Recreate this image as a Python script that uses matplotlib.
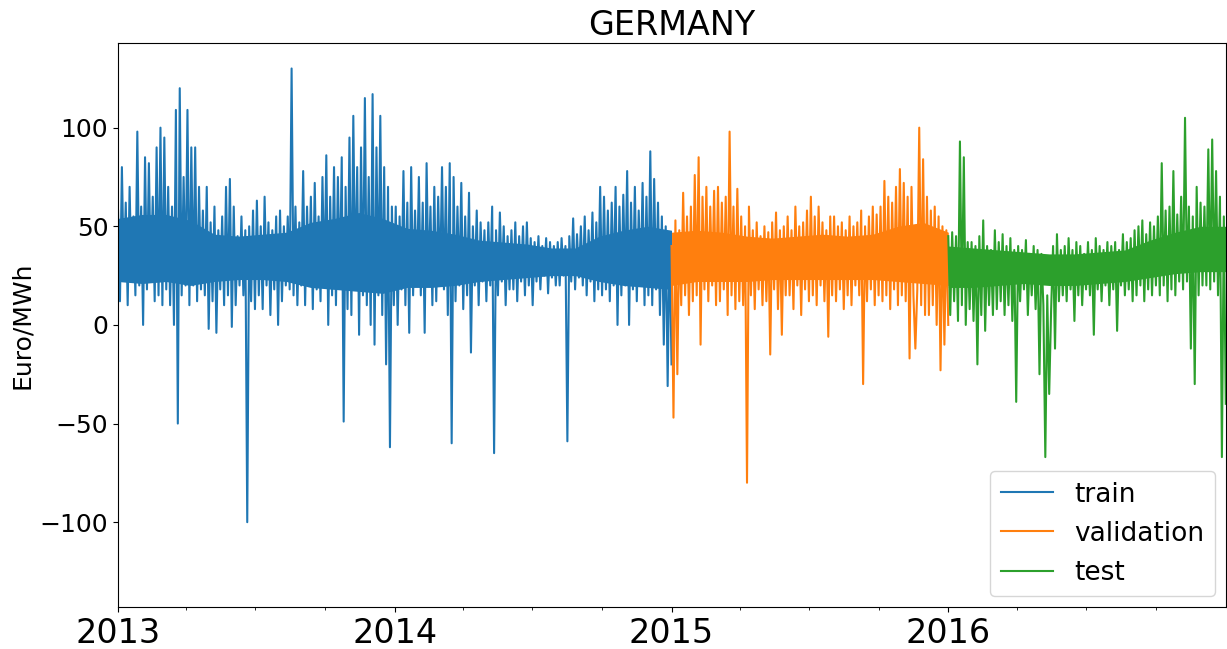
import numpy as np
import pandas as pd
import matplotlib
matplotlib.use("Agg")
import matplotlib.pyplot as plt
import matplotlib.dates as mdates

# hourly prices, thinned to 12 points per month
train_2013 = [
    58, 12, 80, 25, 62, 10, 70, 22, 55, 15, 98, 20,
    60, 0, 85, 18, 82, 22, 65, 12, 90, 15, 100, 10,
    95, 18, 70, 10, 60, 0, 109, -50, 120, 15, 75, 20,
    109, 10, 90, 20, 90, 12, 70, 18, 58, 15, 70, -2,
    52, 12, 60, -4, 48, 18, 55, 10, 70, 15, 74, -1,
    60, 10, 45, 20, 55, 15, 48, -100, 50, 12, 58, 8,
    63, 15, 50, 8, 65, 20, 52, 5, 48, 18, 55, 0,
    58, 12, 50, 20, 55, 18, 130, 15, 60, 10, 52, 20,
    78, 10, 60, 22, 65, 8, 72, 18, 55, 12, 75, 20,
    86, 0, 65, 15, 80, 10, 75, 20, 85, -49, 70, 8,
    95, 5, 106, 20, 80, -5, 90, 15, 115, 10, 75, 0,
    117, -10, 90, 15, 106, 5, 80, -20, 70, -62, 60, 10,
]
train_2014 = [
    60, 0, 55, 18, 78, 10, 62, -4, 80, 15, 58, 20,
    75, 15, 62, -4, 82, 20, 60, 10, 70, 12, 65, 22,
    80, 18, 70, 5, 82, -60, 75, 12, 60, 20, 72, 8,
    55, 15, 67, -14, 50, 20, 58, 10, 52, 22, 48, 12,
    52, 20, 60, -65, 48, 15, 57, 22, 50, 10, 45, 18,
    48, 18, 52, 12, 45, 22, 50, 15, 52, 20, 44, 10,
    42, 22, 45, 18, 40, 25, 44, 16, 42, 24, 40, 20,
    42, 20, 44, 25, 40, -59, 45, 22, 54, 18, 46, 24,
    50, 20, 55, 15, 48, 22, 57, 12, 52, 18, 70, 15,
    65, 18, 58, 12, 62, 20, 70, 0, 60, 15, 66, 20,
    78, 0, 62, 18, 70, 12, 58, 20, 72, 10, 65, 15,
    88, 10, 74, 18, 62, 5, 55, -10, 50, -31, 45, -20,
]
validation_2015 = [
    40, -47, 53, -25, 48, 10, 67, 15, 55, 5, 60, 12,
    76, 15, 85, -10, 65, 18, 70, 12, 60, 20, 68, 10,
    70, 12, 62, 18, 65, 5, 98, 15, 60, 8, 69, 12,
    55, 10, 50, -80, 60, 15, 48, 8, 52, 18, 45, 10,
    50, 12, 47, -15, 52, 18, 57, 8, 48, -5, 50, 15,
    55, 15, 48, 8, 60, 20, 50, 5, 52, 18, 58, 12,
    65, 15, 55, 10, 60, 20, 52, 12, 48, -6, 55, 15,
    55, 12, 50, 18, 52, 8, 48, 15, 55, 10, 50, 20,
    52, 15, 58, -30, 50, 12, 55, 18, 60, 10, 56, 15,
    60, 12, 73, 15, 65, 8, 62, 18, 70, 10, 79, 15,
    72, 12, 65, -17, 70, 15, -12, 18, 100, 10, 84, 5,
    65, 5, 58, 10, 60, 0, 55, -23, 50, -10, 48, 0,
]
test_2016 = [
    45, 5, 47, 12, 45, 2, 93, 10, 85, 0, 42, 8,
    42, 2, 40, -20, 45, 5, 53, -3, 40, 10, 38, 5,
    48, 8, 42, 12, 46, 5, 40, 10, 44, 2, 38, -39,
    40, 12, 38, 18, 43, 5, 36, 15, 40, 8, 38, -25,
    36, 10, -67, 15, -35, 8, 40, -12, 46, 12, 38, 15,
    40, 12, 44, 18, 38, 2, 42, 15, 40, 10, 36, 18,
    42, 15, 38, -5, 44, 18, 40, 12, 38, 20, 42, 10,
    40, 18, 42, -3, 38, 20, 46, 15, 42, 18, 44, 12,
    48, 15, 50, 20, 53, 12, 46, 18, 52, 15, 50, 20,
    55, 15, 82, 20, 58, 12, 60, 18, 78, 15, 56, 22,
    65, 18, 105, 22, 60, -12, 55, -30, 70, 15, 62, 20,
    60, 20, 89, 18, 94, 22, 78, 15, 65, -67, 55, -40,
]

# the dense day/night band that the hourly line fills in, per month (low, high)
band_lo_2013 = [22, 21, 22, 20, 22, 23, 23, 22, 19, 18, 17, 16]
band_hi_2013 = [54, 56, 56, 53, 46, 45, 46, 47, 52, 54, 57, 54]
band_lo_2014 = [19, 19, 20, 22, 23, 24, 25, 25, 22, 20, 19, 18]
band_hi_2014 = [49, 48, 46, 43, 42, 41, 39, 39, 45, 48, 50, 48]
band_lo_2015 = [20, 22, 22, 22, 23, 23, 23, 23, 23, 22, 21, 20]
band_hi_2015 = [47, 48, 47, 45, 44, 45, 46, 45, 46, 50, 52, 47]
band_lo_2016 = [19, 19, 20, 21, 20, 20, 21, 22, 24, 26, 27, 27]
band_hi_2016 = [40, 39, 38, 37, 36, 36, 37, 38, 43, 47, 50, 50]

train = pd.Series(train_2013 + train_2014,
                  index=pd.date_range("2013-01-01", "2014-12-31 23:00", periods=288))
validation = pd.Series(validation_2015,
                       index=pd.date_range("2015-01-01", "2015-12-31 23:00", periods=144))
test = pd.Series(test_2016,
                 index=pd.date_range("2016-01-01", "2016-12-31 23:00", periods=144))

train_band = pd.DataFrame({"lo": band_lo_2013 + band_lo_2014, "hi": band_hi_2013 + band_hi_2014},
                          index=pd.date_range("2013-01-01", "2014-12-31 23:00", periods=24))
validation_band = pd.DataFrame({"lo": band_lo_2015, "hi": band_hi_2015},
                               index=pd.date_range("2015-01-01", "2015-12-31 23:00", periods=12))
test_band = pd.DataFrame({"lo": band_lo_2016, "hi": band_hi_2016},
                         index=pd.date_range("2016-01-01", "2016-12-31 23:00", periods=12))

fig = plt.figure(figsize=(12.27, 6.49), dpi=100)
ax = fig.add_axes([0.0962, 0.0647, 0.9028, 0.8693])

colors = ["tab:blue", "tab:orange", "tab:green"]
for s, b, name, c in zip([train, validation, test],
                         [train_band, validation_band, test_band],
                         ["train", "validation", "test"], colors):
    ax.fill_between(b.index, b["lo"], b["hi"], color=c, lw=0)
    ax.plot(s.index, s.values, lw=1.5, color=c, label=name)

ax.set_xlim(pd.Timestamp("2013-01-01"), pd.Timestamp("2016-12-31 23:00"))
ax.set_ylim(-143, 143)
ax.set_yticks([-100, -50, 0, 50, 100])
ax.xaxis.set_major_locator(mdates.YearLocator())
ax.xaxis.set_major_formatter(mdates.DateFormatter("%Y"))
ax.xaxis.set_minor_locator(mdates.MonthLocator(bymonth=[4, 7, 10]))
ax.tick_params(axis="x", which="major", labelsize=24)
ax.tick_params(axis="y", labelsize=18)

ax.set_title("GERMANY", fontsize=24)
ax.set_ylabel("Euro/MWh", fontsize=18)
ax.legend(loc="lower right", fontsize=19, borderaxespad=0.4)

plt.savefig("out.png", dpi=100)
